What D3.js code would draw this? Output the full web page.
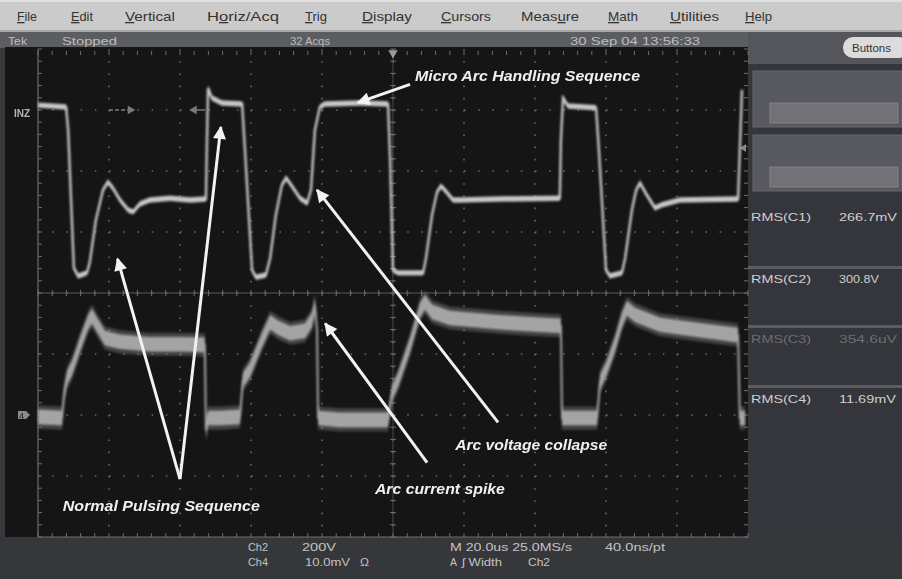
<!DOCTYPE html>
<html><head><meta charset="utf-8">
<script src="https://cdn.jsdelivr.net/npm/d3@7"></script>
<style>
body{margin:0;background:#000;overflow:hidden}
svg{display:block;font-family:"Liberation Sans",Arial,sans-serif}
</style>
</head><body>
<svg id="c" width="902" height="579"></svg>
<script>
// ---------- DATA ----------
// Ch2 (voltage, 200 V/div) : time in µs, value in V
const ch2Time = [0,7.9,8.5,10.1,11.3,13.8,14.6,16.3,18.3,19.7,21.1,23.1,25.4,26.8,28.7,31.5,37.2,42.8,47.3,47.6,47.9,49.0,51.8,57.5,58.3,60.3,61.4,64.2,65.4,67.0,68.7,69.9,71.5,73.8,75.8,76.9,78.0,79.4,80.8,90.7,98.6,99.2,100.0,101.4,108.5,109.3,111.0,112.4,113.5,114.9,116.9,118.9,130.1,147.0,147.3,147.9,149.3,157.2,158.0,160.0,161.1,164.5,165.4,167.3,168.5,169.6,171.3,173.8,175.8,180.8,197.2,197.7,198.3];
const ch2Volts = [16,10,-66,-518,-544,-534,-498,-361,-262,-236,-256,-295,-328,-334,-308,-295,-289,-295,-292,-98,72,39,23,20,-131,-525,-548,-541,-485,-344,-246,-223,-249,-289,-305,-262,-66,10,20,23,20,-164,-525,-534,-534,-485,-344,-269,-249,-266,-295,-295,-292,-289,-98,39,13,7,-131,-525,-544,-534,-485,-328,-262,-239,-275,-321,-311,-295,-292,-131,66];
// Ch4 (current probe, 10 mV/div) : time in µs, value in mV
const ch4Time = [0,6.8,7.3,8.2,9.6,11.8,14.1,15.2,16.6,18.9,23.1,31.5,40.0,47.0,47.3,47.9,51.3,56.9,57.7,59.7,63.1,65.4,67.6,71.0,75.2,77.2,78.0,78.6,78.9,85.1,98.6,99.7,101.4,104.8,107.6,109.0,111.0,116.1,130.1,141.4,147.3,147.6,152.7,157.5,158.3,160.0,162.5,164.5,165.9,168.2,175.2,186.5,197.2,197.7,199.2];
const ch4mV = [-0.3,-0.5,3.3,6.1,7.7,11.5,15.2,16.2,14.8,12.6,12.0,11.6,11.6,11.5,-2.5,-0.5,-0.5,-0.3,5.7,7.4,12.3,15.2,14.3,13.4,13.8,15.6,18.0,13.9,-0.5,-0.8,-0.8,3.6,5.7,11.5,17.2,18.5,16.9,15.9,15.2,14.8,14.6,-0.5,-0.5,-0.5,5.4,7.4,11.5,15.6,17.5,16.4,14.8,13.9,13.1,-0.5,-0.5];

const menuItems = ["File","Edit","Vertical","Horiz/Acq","Trig","Display","Cursors","Measure","Math","Utilities","Help"];
const menuMnemonic = [0,0,0,1,0,0,0,4,0,0,0];
const statusTexts = ["Tek","Stopped","32 Acqs","30 Sep 04 13:56:33"];
const rmsLabels = ["RMS(C1)","RMS(C2)","RMS(C3)","RMS(C4)"];
const rmsValues = ["266.7mV","300.8V","354.6uV","11.69mV"];
const footerRow1 = ["Ch2","200V","M 20.0us 25.0MS/s","40.0ns/pt"];
const footerRow2 = ["Ch4","10.0mV","\u03A9","A","\u0283 Width","Ch2"];
// annotations: text, text anchor (µs, div), arrow tails/heads (µs, div)
const annoTexts = ["Micro Arc Handling Sequence","Normal Pulsing Sequence","Arc voltage collapse","Arc current spike"];
const annoTextPos = [[106.2,3.47],[7.0,-3.57],[117.5,-2.58],[94.9,-3.3]];
const annoArrows = [ // [tailT, tailDiv, headT, headDiv]
  [104.8,3.42,90.1,3.12],
  [40.0,-3.05,22.4,0.56],
  [40.0,-3.05,51.5,2.72],
  [129.6,-2.12,78.6,1.69],
  [109.6,-2.78,80.9,-0.50]
];

// ---------- LAYOUT ----------
const W = 902, H = 579;
const svg = d3.select("#c");
const menuLayout = [[17,20],[71,22],[125,50],[207,72],[305,22],[362,50],[441,50],[521,58],[608,30],[670,49],[745,27]];
const statusLayout = [[8,19],[62,55],[290,40],[570,130]];
const rmsLabelW = 60, rmsValueW = [58,40,58,57];
const foot1Layout = [[248,20],[302,34],[450,122],[605,60]];
const foot2Layout = [[248,20],[305,45],[360,9],[450,7],[462,40],[528,22]];
const annoW = [225,197,152,130];

const x = d3.scaleLinear().domain([0,200]).range([38,748]);
const yDiv = d3.scaleLinear().domain([-4,4]).range([537,49]);
const y2 = d3.scaleLinear().domain([-1400,200]).range([537,49]);   // 200 V/div, ground at +3 div
const y4 = d3.scaleLinear().domain([-20,60]).range([537,49]);      // 10 mV/div, ground at -2 div

// frame backgrounds
svg.append("rect").attr("width",W).attr("height",H).attr("fill","#37383c");
// menu bar
svg.append("rect").attr("x",0).attr("y",0).attr("width",W).attr("height",31).attr("fill","#cbcbcb");
svg.append("rect").attr("x",0).attr("y",0).attr("width",W).attr("height",2).attr("fill","#e2e2e2");
svg.append("rect").attr("x",0).attr("y",30).attr("width",W).attr("height",2).attr("fill","#a9a9a9");
const menu = svg.append("g").attr("font-size",13).attr("fill","#333");
menuItems.forEach((m,i)=>{
  const t = menu.append("text").attr("x",menuLayout[i][0]).attr("y",21)
    .attr("textLength",menuLayout[i][1]).attr("lengthAdjust","spacingAndGlyphs");
  const k = menuMnemonic[i];
  if (k>0) t.append("tspan").text(m.slice(0,k));
  t.append("tspan").attr("text-decoration","underline").text(m[k]);
  t.append("tspan").text(m.slice(k+1));
});
// status bar
svg.append("rect").attr("x",0).attr("y",32).attr("width",W).attr("height",16).attr("fill","#5b5d61");
svg.append("g").attr("font-size",11.5).attr("fill","#bdbdbd")
  .selectAll("text").data(statusTexts).join("text")
  .attr("x",(d,i)=>statusLayout[i][0]).attr("y",44.5)
  .attr("textLength",(d,i)=>statusLayout[i][1]).attr("lengthAdjust","spacingAndGlyphs").text(d=>d);

// right panel
svg.append("rect").attr("x",748).attr("y",48).attr("width",154).attr("height",489).attr("fill","#35363b");
svg.append("rect").attr("x",748).attr("y",32).attr("width",154).attr("height",32).attr("fill","#55565b");
svg.append("rect").attr("x",843).attr("y",37).attr("width",66).attr("height",21).attr("rx",10).attr("fill","#dcdcdc");
svg.append("text").attr("x",852).attr("y",52).attr("font-size",11.5).attr("fill","#333").text("Buttons");
[71,135].forEach(yy=>{
  svg.append("rect").attr("x",753).attr("y",yy).attr("width",149).attr("height",56).attr("fill","#58595e").attr("stroke","#66676c");
  svg.append("rect").attr("x",770).attr("y",yy+32).attr("width",128).attr("height",20).attr("fill","#717277").attr("stroke","#818287");
});
[266,325,385].forEach(yy=>{
  svg.append("rect").attr("x",748).attr("y",yy).attr("width",154).attr("height",3).attr("fill","#5c5d62");
});
const rmsY = [221,283,343,403];
const rmsG = svg.append("g").attr("font-size",11.5);
rmsLabels.forEach((l,i)=>{
  const c = i===2 ? "#6c6d72" : "#cfcfcf";
  rmsG.append("text").attr("x",751).attr("y",rmsY[i]).attr("fill",c)
    .attr("textLength",rmsLabelW).attr("lengthAdjust","spacingAndGlyphs").text(l);
  rmsG.append("text").attr("x",839).attr("y",rmsY[i]).attr("fill",c)
    .attr("textLength",rmsValueW[i]).attr("lengthAdjust","spacingAndGlyphs").text(rmsValues[i]);
});

// scope screen
svg.append("rect").attr("x",5).attr("y",47).attr("width",743).attr("height",490).attr("fill","#151516");

// footer
svg.append("rect").attr("x",0).attr("y",537).attr("width",W).attr("height",42).attr("fill","#36373b");
const foot = svg.append("g").attr("font-size",11.5).attr("fill","#c2c2c2");
footerRow1.forEach((t,i)=>foot.append("text").attr("x",foot1Layout[i][0]).attr("y",551)
  .attr("textLength",foot1Layout[i][1]).attr("lengthAdjust","spacingAndGlyphs").text(t));
footerRow2.forEach((t,i)=>foot.append("text").attr("x",foot2Layout[i][0]).attr("y",566)
  .attr("textLength",foot2Layout[i][1]).attr("lengthAdjust","spacingAndGlyphs").text(t));

// ---------- GRATICULE ----------
const grid = svg.append("g");
const majorT = d3.range(0,201,20), majorD = d3.range(-4,4.01,1);
const minorT = d3.range(0,200.01,4), minorD = d3.range(-4,4.01,0.2);
grid.selectAll(".vl").data(majorT.slice(1,-1)).join("line")
  .attr("x1",d=>x(d)).attr("x2",d=>x(d)).attr("y1",yDiv(4)).attr("y2",yDiv(-4))
  .attr("stroke","#666").attr("stroke-width",1.6).attr("stroke-dasharray","1.6 10.6");
grid.selectAll(".hl").data(majorD.slice(1,-1)).join("line")
  .attr("y1",d=>yDiv(d)).attr("y2",d=>yDiv(d)).attr("x1",x(0)).attr("x2",x(200))
  .attr("stroke","#666").attr("stroke-width",1.6).attr("stroke-dasharray","1.6 12.6");
grid.append("line").attr("x1",x(0)).attr("x2",x(0)).attr("y1",yDiv(4)).attr("y2",yDiv(-4)).attr("stroke","#6e6e6e").attr("stroke-width",1.2);
grid.append("line").attr("x1",x(0)).attr("x2",x(200)).attr("y1",yDiv(-4)).attr("y2",yDiv(-4)).attr("stroke","#6e6e6e").attr("stroke-width",1.2);
grid.append("line").attr("x1",x(0)).attr("x2",x(200)).attr("y1",yDiv(0)).attr("y2",yDiv(0)).attr("stroke","#5a5a5a").attr("stroke-width",1);
grid.append("line").attr("x1",x(100)).attr("x2",x(100)).attr("y1",yDiv(4)).attr("y2",yDiv(-4)).attr("stroke","#4a4a4a").attr("stroke-width",1);
const tickCol = "#6e6e6e";
grid.selectAll(".tc").data(minorT).join("line")
  .attr("x1",d=>x(d)).attr("x2",d=>x(d)).attr("y1",yDiv(0)-3).attr("y2",yDiv(0)+3).attr("stroke",tickCol);
grid.selectAll(".tb").data(minorT).join("line")
  .attr("x1",d=>x(d)).attr("x2",d=>x(d)).attr("y1",yDiv(-4)-4).attr("y2",yDiv(-4)).attr("stroke",tickCol);
grid.selectAll(".tt").data(minorT).join("line")
  .attr("x1",d=>x(d)).attr("x2",d=>x(d)).attr("y1",yDiv(4)+2).attr("y2",yDiv(4)+6).attr("stroke",tickCol);
grid.selectAll(".tv").data(minorD).join("line")
  .attr("x1",x(100)-3).attr("x2",x(100)+3).attr("y1",d=>yDiv(d)).attr("y2",d=>yDiv(d)).attr("stroke",tickCol);
grid.selectAll(".tl").data(minorD).join("line")
  .attr("x1",x(0)).attr("x2",x(0)+4).attr("y1",d=>yDiv(d)).attr("y2",d=>yDiv(d)).attr("stroke",tickCol);
grid.selectAll(".tr").data(minorD).join("line")
  .attr("x1",x(200)-4).attr("x2",x(200)).attr("y1",d=>yDiv(d)).attr("y2",d=>yDiv(d)).attr("stroke",tickCol);
svg.append("path").attr("d",d3.symbol(d3.symbolTriangle,40)()).attr("transform",`translate(${x(100)},${yDiv(4)+4}) rotate(180)`).attr("fill","#9a9a9a");

// ---------- FILTERS ----------
const defs = svg.append("defs");
defs.append("filter").attr("id","soft").append("feGaussianBlur").attr("stdDeviation",0.7);
defs.append("filter").attr("id","softer").attr("x","-5%").attr("y","-5%").attr("width","110%").attr("height","110%")
  .append("feGaussianBlur").attr("stdDeviation",1.0);
defs.append("marker").attr("id","ah").attr("viewBox","0 0 10 10").attr("refX",9).attr("refY",5)
  .attr("markerWidth",15).attr("markerHeight",13).attr("markerUnits","userSpaceOnUse").attr("orient","auto")
  .append("path").attr("d","M0,0 L10,5 L0,10 Z").attr("fill","#f2f2f2");

// ---------- TRACES ----------
const ch2 = ch2Time.map((t,i)=>({t,v:ch2Volts[i]}));
const ch4 = ch4Time.map((t,i)=>({t,v:ch4mV[i]}));
const mk = svg.append("g").attr("filter","url(#soft)");
mk.append("text").attr("x",14).attr("y",117).attr("font-size",10).attr("font-weight","bold").attr("fill","#b5b5b5").text("INZ");
mk.append("path").attr("d",`M18,${y4(0)-4} L26,${y4(0)-4} L30,${y4(0)} L26,${y4(0)+4} L18,${y4(0)+4} Z`).attr("fill","#8a8a8a");
mk.append("text").attr("x",19).attr("y",y4(0)+4).attr("font-size",9).attr("fill","#222").text("4");
const ind = mk.append("g").attr("stroke","#7a7a7a").attr("fill","#7a7a7a").attr("stroke-width",1.5);
ind.append("line").attr("x1",x(20)).attr("x2",x(25.5)).attr("y1",y2(0)).attr("y2",y2(0)).attr("stroke-dasharray","4 2");
ind.append("path").attr("d",`M${x(25.5)},${y2(0)-3} L${x(27)},${y2(0)} L${x(25.5)},${y2(0)+3} Z`);
ind.append("line").attr("x1",x(44.5)).attr("x2",x(47)).attr("y1",y2(0)).attr("y2",y2(0));
ind.append("path").attr("d",`M${x(44.5)},${y2(0)-3} L${x(43)},${y2(0)} L${x(44.5)},${y2(0)+3} Z`);
mk.append("path").attr("d",`M${x(200)-8},148 L${x(200)-2},144 L${x(200)-2},152 Z`).attr("fill","#8a8a8a");

const tr = svg.append("g").attr("filter","url(#softer)");
// Ch4 noisy band (soft halo + uniform core)
tr.append("path").datum(ch4)
  .attr("d",d3.area().x(d=>x(d.t)).y0(d=>y4(d.v-1.9)).y1(d=>y4(d.v+1.9)))
  .attr("fill","#7c7c7c").attr("opacity",0.45);
tr.append("path").datum(ch4)
  .attr("d",d3.area().x(d=>x(d.t)).y0(d=>y4(d.v-1.2)).y1(d=>y4(d.v+1.2)))
  .attr("fill","#a4a4a4");
tr.append("path").datum(ch4)
  .attr("d",d3.line().x(d=>x(d.t)).y(d=>y4(d.v)))
  .attr("fill","none").attr("stroke","#a4a4a4").attr("stroke-width",2);
// Ch2
tr.append("path").datum(ch2)
  .attr("d",d3.area().x(d=>x(d.t)).y0(d=>y2(d.v-9)).y1(d=>y2(d.v+9)))
  .attr("fill","#c2c2c2");
tr.append("path").datum(ch2)
  .attr("d",d3.line().x(d=>x(d.t)).y(d=>y2(d.v)))
  .attr("fill","none").attr("stroke","#c8c8c8").attr("stroke-width",2.4);

// ---------- ANNOTATIONS ----------
const an = svg.append("g").attr("filter","url(#soft)");
an.selectAll("line").data(annoArrows).join("line")
  .attr("x1",d=>x(d[0])).attr("y1",d=>yDiv(d[1]))
  .attr("x2",d=>x(d[2])).attr("y2",d=>yDiv(d[3]))
  .attr("stroke","#f2f2f2").attr("stroke-width",3).attr("marker-end","url(#ah)");
an.selectAll("text").data(annoTexts).join("text")
  .attr("x",(d,i)=>x(annoTextPos[i][0])).attr("y",(d,i)=>yDiv(annoTextPos[i][1]))
  .attr("font-size",14.5).attr("font-weight","bold").attr("font-style","italic").attr("fill","#f0f0f0")
  .attr("textLength",(d,i)=>annoW[i]).attr("lengthAdjust","spacingAndGlyphs")
  .text(d=>d);
</script>
</body></html>
